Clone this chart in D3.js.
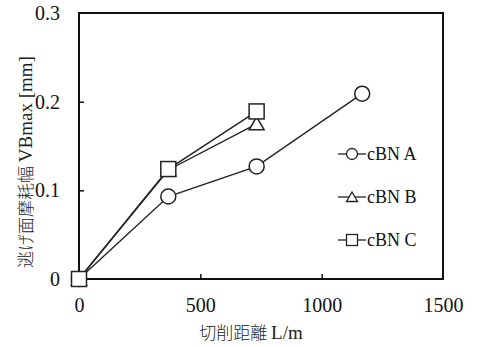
<!DOCTYPE html>
<html>
<head>
<meta charset="utf-8">
<script src="https://cdn.jsdelivr.net/npm/d3@7"></script>
<style>
  body { margin: 0; background: #fff; }
  svg { display: block; }
</style>
</head>
<body>
<div id="chart"></div>
<script>
// data
const seriesNames = ["cBN A", "cBN B", "cBN C"];
const symbols = ["circle", "triangle", "square"];
const distA = [0, 368, 732, 1167];
const wearA = [0, 0.093, 0.127, 0.209];
const distB = [0, 368, 732];
const wearB = [0, 0.123, 0.175];
const distC = [0, 368, 732];
const wearC = [0, 0.124, 0.189];
const xTicks = [0, 500, 1000, 1500];
const yTicks = [0, 0.1, 0.2, 0.3];

const width = 477, height = 347;
const margin = { left: 79, right: 34, top: 13, bottom: 68 };

const svg = d3.select("#chart").append("svg")
  .attr("width", width)
  .attr("height", height);

const x = d3.scaleLinear().domain([0, 1500]).range([margin.left, width - margin.right]);
const y = d3.scaleLinear().domain([0, 0.3]).range([height - margin.bottom, margin.top]);

const serif = "'Liberation Serif', 'Times New Roman', serif";
const cjk = "'Noto Sans CJK JP', sans-serif";

// frame
svg.append("rect")
  .attr("x", x(0)).attr("y", y(0.3))
  .attr("width", x(1500) - x(0)).attr("height", y(0) - y(0.3))
  .attr("fill", "none").attr("stroke", "#111").attr("stroke-width", 2);

// axes with inward ticks
const xAxis = svg.append("g")
  .attr("transform", `translate(0,${y(0)})`)
  .call(d3.axisBottom(x).tickValues(xTicks).tickSize(-5).tickPadding(19).tickFormat(d3.format("d")));
const yAxis = svg.append("g")
  .attr("transform", `translate(${x(0)},0)`)
  .call(d3.axisLeft(y).tickValues(yTicks).tickSize(-5).tickPadding(19).tickFormat(d => d === 0 ? "0" : d3.format(".1f")(d)));

[xAxis, yAxis].forEach(g => {
  g.select(".domain").remove();
  g.selectAll(".tick line").attr("stroke", "#111").attr("stroke-width", 1.5);
  g.selectAll(".tick text")
    .attr("fill", "#111")
    .style("font-family", serif)
    .style("font-size", "20px");
});
xAxis.selectAll(".tick line").filter(d => d === 0 || d === 1500).remove();
yAxis.selectAll(".tick line").filter(d => d === 0 || d === 0.3).remove();

// axis titles
svg.append("text")
  .attr("x", 251).attr("y", 339)
  .attr("text-anchor", "middle")
  .attr("fill", "#222")
  .style("font-size", "17px")
  .style("font-weight", 300)
  .style("font-family", cjk)
  .text("切削距離 ")
  .append("tspan")
  .style("font-family", serif)
  .style("font-weight", 400)
  .style("font-size", "19px")
  .text("L/m");

svg.append("text")
  .attr("transform", `translate(32,${162}) rotate(-90)`)
  .attr("text-anchor", "middle")
  .attr("fill", "#222")
  .style("font-size", "17px")
  .style("font-weight", 300)
  .style("font-family", cjk)
  .text("逃げ面摩耗幅 ")
  .append("tspan")
  .style("font-family", serif)
  .style("font-weight", 400)
  .style("font-size", "19px")
  .text("VBmax [mm]");

const line = d3.line().x(d => x(d[0])).y(d => y(d[1]));
const data = [
  d3.zip(distA, wearA),
  d3.zip(distB, wearB),
  d3.zip(distC, wearC)
];

function drawMarker(g, kind, cx, cy) {
  if (kind === "circle") {
    g.append("circle").attr("cx", cx).attr("cy", cy).attr("r", 7.5);
  } else if (kind === "triangle") {
    g.append("path").attr("d", `M${cx},${cy - 7}L${cx + 7.5},${cy + 6}L${cx - 7.5},${cy + 6}Z`);
  } else {
    g.append("rect").attr("x", cx - 7.5).attr("y", cy - 7.5).attr("width", 15).attr("height", 15);
  }
}

data.forEach(pts => {
  svg.append("path")
    .attr("d", line(pts))
    .attr("fill", "none")
    .attr("stroke", "#222")
    .attr("stroke-width", 1.4);
});
data.forEach((pts, i) => {
  const g = svg.append("g").attr("fill", "#fff").attr("stroke", "#222").attr("stroke-width", 1.5);
  pts.forEach(p => drawMarker(g, symbols[i], x(p[0]), y(p[1])));
});

// legend
const legendY = [154, 197, 240];
seriesNames.forEach((name, i) => {
  const g = svg.append("g").attr("fill", "#fff").attr("stroke", "#222").attr("stroke-width", 1.3);
  g.append("line").attr("x1", 338).attr("x2", 366).attr("y1", legendY[i]).attr("y2", legendY[i]);
  if (symbols[i] === "circle") g.append("circle").attr("cx", 352).attr("cy", legendY[i]).attr("r", 5.5);
  else if (symbols[i] === "triangle") g.append("path").attr("d", `M352,${legendY[i] - 5}L357.5,${legendY[i] + 4.5}L346.5,${legendY[i] + 4.5}Z`);
  else g.append("rect").attr("x", 346.5).attr("y", legendY[i] - 5.5).attr("width", 11).attr("height", 11);
  svg.append("text")
    .attr("x", 367).attr("y", legendY[i] + 6)
    .attr("fill", "#111")
    .style("font-family", serif)
    .style("font-size", "18px")
    .text(name);
});
</script>
</body>
</html>
